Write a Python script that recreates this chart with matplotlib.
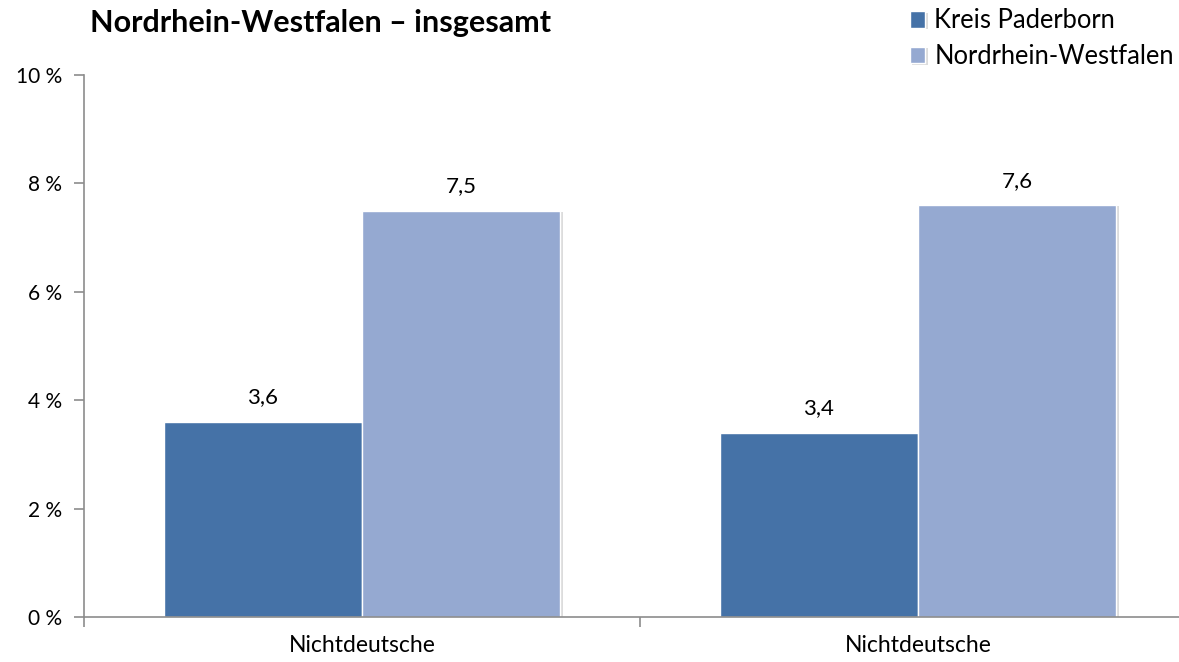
import matplotlib
matplotlib.use("Agg")
from matplotlib import pyplot as plt
from matplotlib import patheffects as pe
import numpy as np

categories = ["Nichtdeutsche", "Nichtdeutsche"]
paderborn = [3.6, 3.4]
nrw = [7.5, 7.6]
labels_pb = ["3,6", "3,4"]
labels_nrw = ["7,5", "7,6"]
series_names = ["Kreis Paderborn", "Nordrhein-Westfalen"]
yticks = [0, 2, 4, 6, 8, 10]
ytick_labels = ["0 %", "2 %", "4 %", "6 %", "8 %", "10 %"]

DARK = "#4572A7"
LIGHT = "#95A9D1"
AXIS = "#8c8c8c"

plt.rcParams['font.family'] = ['Lato', 'DejaVu Sans']

fig = plt.figure(figsize=(11.79, 6.62), dpi=100)
ax = fig.add_axes([84/1179, 45/662, 1112/1179, 542/662])

x = np.arange(len(categories))
w = 0.357
shadow = [pe.SimplePatchShadow(offset=(1.5, -1), shadow_rgbFace="#bbbbbb", alpha=0.5), pe.Normal()]
b1 = ax.bar(x - w/2, paderborn, w, color=DARK, edgecolor="white", linewidth=1, label=series_names[0])
b2 = ax.bar(x + w/2, nrw, w, color=LIGHT, edgecolor="white", linewidth=1, label=series_names[1])
for b in list(b1) + list(b2):
    b.set_path_effects(shadow)

for xi, v, s in zip(x - w/2, paderborn, labels_pb):
    ax.text(xi, v + 0.45, s, ha="center", va="center", fontsize=16)
for xi, v, s in zip(x + w/2, nrw, labels_nrw):
    ax.text(xi, v + 0.45, s, ha="center", va="center", fontsize=16)

ax.set_xlim(-0.5, 1.5)
ax.set_ylim(0, 10)
ax.set_yticks(yticks)
ax.set_yticklabels(ytick_labels, fontsize=15)
ax.set_xticks(x)
ax.set_xticklabels(categories, fontsize=16.5)
ax.tick_params(axis="x", length=0, pad=13)
ax.set_xticks([-0.5, 0.5, 1.5], minor=True)
ax.tick_params(axis="x", which="minor", length=7, color=AXIS, width=1.2)
ax.tick_params(axis="y", length=7, color=AXIS, width=1.2, pad=9)

for side in ["top", "right"]:
    ax.spines[side].set_visible(False)
for side in ["left", "bottom"]:
    ax.spines[side].set_color(AXIS)
    ax.spines[side].set_linewidth(1.2)

fig.text(90/1179, 1 - 23/662, "Nordrhein-Westfalen – insgesamt", fontsize=22, fontweight="bold",
         ha="left", va="center")

fig.legend(handles=[b1, b2], labels=series_names, loc="upper right", bbox_to_anchor=(1.0, 0.995),
           frameon=False, fontsize=18.4, handlelength=0.6, handleheight=0.6, handletextpad=0.35,
           labelspacing=0.42, borderaxespad=0.1, borderpad=0.1)

fig.savefig("out.png", dpi=100)
